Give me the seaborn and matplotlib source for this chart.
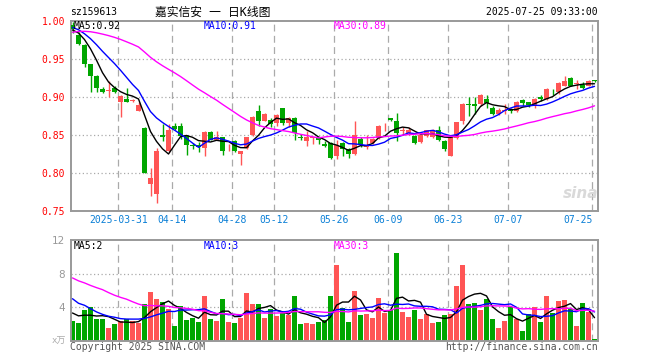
import numpy as np
import pandas as pd
import seaborn as sns
import matplotlib
matplotlib.use("Agg")
import matplotlib.pyplot as plt

RED = "#ff5555"
GREEN = "#00a600"

code = "sz159613"
title = "嘉实信安 一 日K线图"
stamp = "2025-07-25 09:33:00"

# trading days shown (exchange holidays skipped)
holidays = ["2025-04-04", "2025-05-01", "2025-05-02", "2025-05-05", "2025-06-02"]
dates = pd.bdate_range("2025-03-19", "2025-07-25", freq="C", holidays=holidays)

tick_dates = ["2025-03-31", "2025-04-14", "2025-04-28", "2025-05-12", "2025-05-26",
              "2025-06-09", "2025-06-23", "2025-07-07", "2025-07-25"]
tick_labels = ["2025-03-31", "04-14", "04-28", "05-12", "05-26",
               "06-09", "06-23", "07-07", "07-25"]

open_ = [0.995, 0.982, 0.968, 0.943, 0.928, 0.911, 0.908, 0.912, 0.894, 0.898,
         0.895, 0.882, 0.859, 0.785, 0.773, 0.850, 0.829, 0.862, 0.862, 0.849,
         0.837, 0.837, 0.833, 0.854, 0.844, 0.847, 0.831, 0.842, 0.825, 0.833,
         0.850, 0.881, 0.869, 0.870, 0.866, 0.885, 0.866, 0.873, 0.848, 0.842,
         0.846, 0.847, 0.838, 0.840, 0.822, 0.839, 0.831, 0.825, 0.845, 0.834,
         0.839, 0.846, 0.860, 0.872, 0.869, 0.855, 0.852, 0.849, 0.841, 0.849,
         0.847, 0.857, 0.842, 0.823, 0.846, 0.868, 0.891, 0.891, 0.891, 0.897,
         0.886, 0.877, 0.882, 0.883, 0.881, 0.896, 0.893, 0.888, 0.900, 0.898,
         0.907, 0.906, 0.915, 0.925, 0.917, 0.916, 0.915, 0.922]
high = [0.999, 0.985, 0.970, 0.944, 0.929, 0.913, 0.921, 0.914, 0.902, 0.912,
        0.898, 0.894, 0.860, 0.806, 0.833, 0.865, 0.865, 0.866, 0.866, 0.850,
        0.840, 0.841, 0.855, 0.855, 0.855, 0.848, 0.838, 0.843, 0.829, 0.848,
        0.875, 0.890, 0.879, 0.872, 0.877, 0.885, 0.874, 0.874, 0.851, 0.855,
        0.848, 0.848, 0.842, 0.841, 0.843, 0.841, 0.833, 0.868, 0.848, 0.850,
        0.846, 0.863, 0.866, 0.873, 0.879, 0.861, 0.860, 0.850, 0.851, 0.857,
        0.858, 0.862, 0.843, 0.849, 0.867, 0.892, 0.900, 0.900, 0.904, 0.903,
        0.888, 0.885, 0.891, 0.886, 0.895, 0.898, 0.894, 0.899, 0.902, 0.912,
        0.910, 0.920, 0.928, 0.926, 0.922, 0.920, 0.922, 0.923]
low = [0.984, 0.968, 0.939, 0.906, 0.906, 0.905, 0.900, 0.905, 0.874, 0.893,
       0.893, 0.881, 0.800, 0.770, 0.760, 0.842, 0.828, 0.856, 0.845, 0.824,
       0.832, 0.828, 0.823, 0.843, 0.843, 0.824, 0.829, 0.828, 0.810, 0.832,
       0.849, 0.862, 0.868, 0.861, 0.862, 0.863, 0.860, 0.844, 0.844, 0.836,
       0.838, 0.838, 0.834, 0.818, 0.819, 0.822, 0.820, 0.824, 0.834, 0.832,
       0.838, 0.845, 0.855, 0.869, 0.842, 0.850, 0.850, 0.838, 0.839, 0.848,
       0.846, 0.842, 0.829, 0.822, 0.845, 0.864, 0.875, 0.877, 0.888, 0.885,
       0.876, 0.876, 0.877, 0.879, 0.880, 0.888, 0.887, 0.886, 0.895, 0.896,
       0.902, 0.904, 0.914, 0.914, 0.910, 0.910, 0.914, 0.920]
close = [0.989, 0.970, 0.943, 0.928, 0.912, 0.907, 0.909, 0.906, 0.901, 0.894,
         0.896, 0.890, 0.800, 0.793, 0.829, 0.847, 0.856, 0.858, 0.849, 0.837,
         0.835, 0.834, 0.854, 0.844, 0.848, 0.829, 0.832, 0.829, 0.829, 0.847,
         0.874, 0.869, 0.878, 0.864, 0.876, 0.866, 0.872, 0.853, 0.846, 0.847,
         0.847, 0.844, 0.836, 0.820, 0.837, 0.831, 0.825, 0.850, 0.837, 0.837,
         0.845, 0.862, 0.861, 0.870, 0.853, 0.856, 0.857, 0.840, 0.850, 0.856,
         0.856, 0.843, 0.831, 0.848, 0.867, 0.891, 0.890, 0.888, 0.902, 0.892,
         0.877, 0.883, 0.883, 0.881, 0.894, 0.892, 0.890, 0.898, 0.898, 0.910,
         0.906, 0.918, 0.921, 0.915, 0.918, 0.912, 0.921, 0.921]
# volume, 10k lots
volume = [2.40, 2.10, 3.60, 4.00, 2.60, 2.60, 1.56, 2.00, 2.36, 2.56,
          2.36, 2.10, 4.40, 5.84, 5.00, 4.64, 3.76, 1.76, 4.16, 2.52,
          2.72, 2.24, 5.36, 2.64, 2.36, 5.00, 2.24, 2.12, 2.72, 5.64,
          4.32, 4.40, 2.76, 3.80, 2.96, 3.28, 3.04, 5.36, 2.00, 2.12,
          2.00, 2.24, 2.48, 5.36, 9.08, 3.88, 2.24, 5.96, 3.08, 3.20,
          2.72, 5.12, 3.32, 3.68, 10.40, 3.44, 2.84, 3.68, 2.60, 3.20,
          2.12, 2.24, 3.08, 3.20, 6.56, 9.08, 4.40, 4.52, 3.68, 5.00,
          2.60, 1.52, 2.36, 4.04, 2.60, 1.16, 3.20, 4.04, 2.24, 5.36,
          3.32, 4.76, 4.88, 3.80, 1.76, 4.52, 3.44, 0.20]

# sessions before the window, only feed the moving averages
prev_close = [0.935, 0.940, 0.945, 0.952, 0.960, 0.968, 0.975, 0.982, 0.988, 0.993,
              0.997, 1.000, 1.003, 1.005, 1.002, 0.998, 0.995, 0.997, 1.001, 1.004,
              1.000, 0.996, 0.993, 0.991, 0.994, 0.990, 0.986, 0.989, 0.987]
prev_volume = [12.5, 11.0, 13.0, 10.5, 9.8, 12.0, 11.5, 10.0, 9.0, 11.5,
               10.5, 10.2, 5.0, 6.2, 4.8, 5.5, 6.0, 5.2, 4.6, 5.6,
               7.5, 6.0, 8.0, 6.5, 5.5, 3.8, 3.2, 4.0, 3.1]

n = len(close)
x = np.arange(n)
open_a, high_a, low_a, close_a = map(np.array, (open_, high, low, close))
up = close_a >= open_a
colors = np.where(up, RED, GREEN)

all_close = pd.Series(prev_close + close)
all_vol = pd.Series(prev_volume + volume)
ma = {w: all_close.rolling(w).mean().to_numpy()[-n:] for w in (5, 10, 30)}
vma = {w: all_vol.rolling(w).mean().to_numpy()[-n:] for w in (5, 10, 30)}
ma_colors = {5: "black", 10: "#0000ff", 30: "#ff00ff"}

date_pos = {d.strftime("%Y-%m-%d"): i for i, d in enumerate(dates)}
tick_pos = [date_pos[d] for d in tick_dates]

sns.set_theme(style="white")
plt.rcParams["font.family"] = ["DejaVu Sans Mono", "Noto Sans CJK SC"]

fig = plt.figure(figsize=(6.6, 3.6), dpi=100)
W, H = 660, 360
ax = fig.add_axes([70.7 / W, 1 - 211 / H, 527 / W, 190 / H])
axv = fig.add_axes([70.7 / W, 1 - 340.7 / H, 527 / W, 100.7 / H])

for a in (ax, axv):
    for s in a.spines.values():
        s.set_color("#999999")
        s.set_linewidth(1.4)
    for p in tick_pos:
        a.axvline(p - 0.35, color="#aaaaaa", lw=0.9, ls=(0, (5.5, 3.5)), zorder=0)

for lvl in (0.80, 0.85, 0.90, 0.95):
    ax.axhline(lvl, color="#aaaaaa", lw=0.9, ls=(0, (1, 2)), zorder=0)
for lvl in (4, 8):
    axv.axhline(lvl, color="#aaaaaa", lw=0.9, ls=(0, (1, 2)), zorder=0)

# candles
ax.vlines(x, low_a, high_a, colors=colors, lw=1, zorder=2)
body_lo = np.minimum(open_a, close_a)
body_h = np.maximum(np.abs(close_a - open_a), 0.0009)
ax.bar(x, body_h, bottom=body_lo, width=0.8, color=colors, linewidth=0, zorder=3)
for w in (5, 10, 30):
    sns.lineplot(x=x, y=ma[w], color=ma_colors[w], lw=1, ax=ax, zorder=4)

# volume
vdf = pd.DataFrame({"x": x, "vol": volume, "dir": np.where(up, "up", "down")})
sns.barplot(data=vdf, x="x", y="vol", hue="dir", palette={"up": RED, "down": GREEN},
            native_scale=True, width=0.83, saturation=1, errorbar=None,
            legend=False, dodge=False, linewidth=0, ax=axv, zorder=2)
for w in (5, 10, 30):
    sns.lineplot(x=x, y=vma[w], color=ma_colors[w], lw=1, ax=axv, zorder=4)

ax.set_xlim(-0.3, 87.53)
axv.set_xlim(-0.3, 87.53)
ax.set_ylim(0.75, 1.0)
axv.set_ylim(0, 12)

ax.set_yticks([0.75, 0.80, 0.85, 0.90, 0.95, 1.00])
ax.set_yticklabels([f"{v:.2f}" for v in [0.75, 0.80, 0.85, 0.90, 0.95, 1.00]])
ax.tick_params(axis="y", length=0, pad=4, labelsize=7, labelcolor="#ff0000")
ax.set_xticks([p - 0.35 for p in tick_pos])
ax.set_xticklabels(tick_labels)
ax.tick_params(axis="x", length=0, pad=3, labelsize=7, labelcolor="#0a7fd6")
xl = ax.get_xticklabels()
xl[-1].set_ha("right")
xl[-1].set_x(0)

axv.set_yticks([4, 8, 12])
axv.set_yticklabels(["4", "8", "12"], family="DejaVu Sans")
axv.tick_params(axis="y", length=0, pad=4, labelsize=7.5, labelcolor="#999999")
axv.set_xticks([])
ax.set_xlabel("")
ax.set_ylabel("")
axv.set_xlabel("")
axv.set_ylabel("")


def ftext(px, py, s, **kw):
    fig.text(px / W, 1 - py / H, s, va="center", **kw)


ftext(70, 12, code, fontsize=7, color="black")
ftext(213, 12, title, fontsize=8.5, color="black", ha="center")
ftext(598, 12, stamp, fontsize=7, color="black", ha="right")

labels = [(74, 5), (204, 10), (334, 30)]
for px, w in labels:
    ftext(px, 26, f"MA{w}:{ma[w][-1]:.2f}", fontsize=7, color=ma_colors[w])
    ftext(px, 246, f"MA{w}:{int(vma[w][-1])}", fontsize=7, color=ma_colors[w])

ftext(66, 341, "x万", fontsize=6.5, color="#aaaaaa", ha="right")
ftext(70, 347, "Copyright 2025 SINA.COM", fontsize=7, color="#555555")
ftext(598, 347, "http://finance.sina.com.cn", fontsize=7, color="#555555", ha="right")
ftext(581, 194, "sina", fontsize=11, color="#d9d9d9", ha="center",
      family="DejaVu Sans", fontweight="bold", style="italic")

fig.savefig("out.png", dpi=100, facecolor="white")
plt.close(fig)
